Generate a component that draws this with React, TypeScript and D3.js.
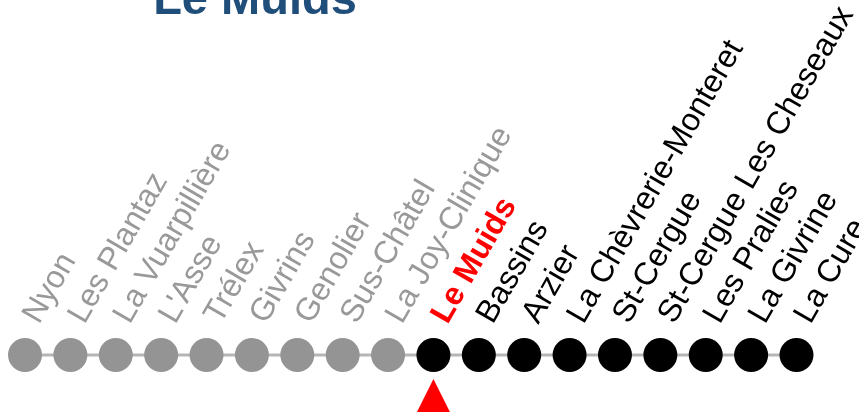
import React, { useEffect } from "react";
import * as d3 from "d3";

const stations = [
  "Nyon", "Les Plantaz", "La Vuarpillière", "L'Asse", "Trélex", "Givrins",
  "Genolier", "Sus-Châtel", "La Joy-Clinique", "Le Muids", "Bassins", "Arzier",
  "La Chèvrerie-Monteret", "St-Cergue", "St-Cergue Les Cheseaux", "Les Pralies",
  "La Givrine", "La Cure",
];
const currentStation = "Le Muids";
const title = "Le Muids";

const W = 859;
const H = 414;

export default function App() {
  useEffect(() => {
    document.body.style.margin = "0";
    document.body.style.overflow = "hidden";
    document.documentElement.style.overflow = "hidden";
  }, []);
  const curIdx = stations.indexOf(currentStation);
  const x = d3.scalePoint<string>().domain(stations).range([25, 796.5]);
  const cy = 355;
  const r = 17;
  const font = "Arial, 'Liberation Sans', Helvetica, sans-serif";
  const tx = x(currentStation)!;
  const p = d3.path();
  p.moveTo(tx, 379);
  p.lineTo(tx + 16.5, 412);
  p.lineTo(tx - 16.5, 412);
  p.closePath();
  return (
    <div style={{ position: "fixed", left: 0, top: 0, width: W, height: H, overflow: "hidden" }}>
      <svg width={W} height={H} style={{ display: "block", overflow: "hidden" }}>
        <text x={255} y={14} textAnchor="middle" fontFamily={font} fontWeight="bold" fontSize={47} fill="#1f4e7a">{title}</text>
        <line x1={x(stations[0])} x2={x(stations[stations.length - 1])} y1={cy} y2={cy} stroke="#b5b5b5" strokeWidth={3} />
        {stations.map((s, i) => {
          const px = x(s)!;
          const past = i < curIdx;
          const cur = i === curIdx;
          return (
            <g key={s}>
              <circle cx={px} cy={cy} r={r} fill={past ? "#949494" : "#000"} />
              <text
                transform={`translate(${px + 14},${325}) rotate(-60)`}
                fontFamily={font}
                fontSize={32}
                fontWeight={cur ? "bold" : "normal"}
                fill={cur ? "#ff0000" : past ? "#999999" : "#000"}
              >{s}</text>
            </g>
          );
        })}
        <path d={p.toString()} fill="#ff0000" />
      </svg>
    </div>
  );
}
